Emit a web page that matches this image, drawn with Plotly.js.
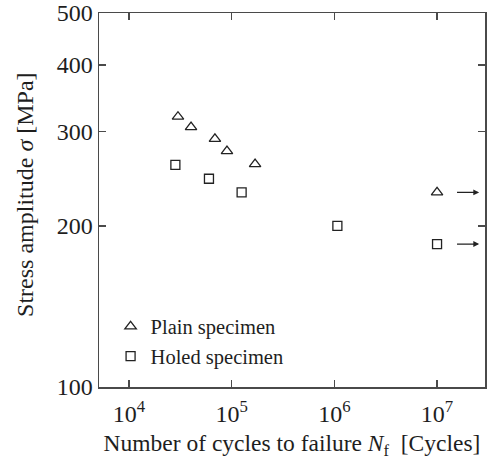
<!DOCTYPE html>
<html><head><meta charset="utf-8">
<script src="https://cdn.plot.ly/plotly-3.0.1.min.js"></script>
<style>html,body{margin:0;padding:0;background:#fff}#c{width:496px;height:462px}</style>
</head><body><div id="c"></div>
<script>
// Plain specimen
const plainN = [30000, 40200, 68700, 90000, 169000, 10000000];
const plainS = [320, 306, 291, 276, 261, 231];
// Holed specimen
const holedN = [28300, 60100, 125000, 1070000, 10000000];
const holedS = [260, 245, 231, 200, 185];
// Run-out (unbroken) specimens
const runoutN = [10000000, 10000000];
const runoutS = [231, 185];
const xTickVals = [1e4, 1e5, 1e6, 1e7];
const xTickText = ['10<sup>4</sup>', '10<sup>5</sup>', '10<sup>6</sup>', '10<sup>7</sup>'];
const yTickVals = [100, 200, 300, 400, 500];
const yTickText = ['100', '200', '300', '400', '500'];
const xTitle = 'Number of cycles to failure <i>N</i><sub>f</sub>  [Cycles]';
const yTitle = 'Stress amplitude <i>σ</i> [MPa]';

const font = 'Liberation Serif, Times New Roman, serif';
const axCol = '#4a4a4a';
const txtCol = '#1e1e1e';

const traces = [
  {x: plainN, y: plainS, mode: 'markers', type: 'scatter', name: 'Plain specimen',
   marker: {symbol: 'triangle-up-open', size: 10, color: '#222', line: {width: 1.3, color: '#222'}}},
  {x: holedN, y: holedS, mode: 'markers', type: 'scatter', name: 'Holed specimen',
   marker: {symbol: 'square-open', size: 9, color: '#222', line: {width: 1.3, color: '#222'}}}
];

const annotations = runoutN.map((n, i) => ({
  xref: 'x', yref: 'y', axref: 'x', ayref: 'y',
  x: Math.log10(n) + 0.41, y: Math.log10(runoutS[i]),
  ax: Math.log10(n) + 0.18, ay: Math.log10(runoutS[i]),
  text: '', showarrow: true, arrowhead: 2, arrowsize: 0.9, arrowwidth: 1.3, arrowcolor: '#222'
}));
annotations.push({
  xref: 'paper', yref: 'paper', x: -0.192, y: 0.516, xanchor: 'center', yanchor: 'middle',
  text: yTitle, textangle: -90, showarrow: false,
  font: {family: font, size: 24, color: txtCol}
});

const layout = {
  width: 496, height: 462,
  margin: {l: 99, r: 11, t: 13, b: 75},
  paper_bgcolor: '#fff', plot_bgcolor: '#fff',
  font: {family: font, color: txtCol, size: 20},
  showlegend: true,
  legend: {x: 0.03, y: 0.215, xanchor: 'left', yanchor: 'top', bgcolor: 'rgba(0,0,0,0)',
           font: {family: font, size: 20.5, color: txtCol}, itemwidth: 30, tracegroupgap: 0},
  xaxis: {type: 'log', range: [3.708, 7.467], tickvals: xTickVals, ticktext: xTickText,
          ticks: 'inside', ticklen: 7, tickwidth: 1.3, tickcolor: axCol,
          showline: true, linecolor: axCol, linewidth: 1.5, mirror: 'ticks',
          showgrid: false, zeroline: false, ticklabelstandoff: 5,
          tickfont: {family: font, size: 24, color: txtCol},
          title: {text: xTitle, font: {family: font, size: 23.5, color: txtCol}, standoff: 8}},
  yaxis: {type: 'log', range: [2, Math.log10(500)], tickvals: yTickVals, ticktext: yTickText,
          ticks: 'inside', ticklen: 7, tickwidth: 1.3, tickcolor: axCol,
          showline: true, linecolor: axCol, linewidth: 1.5, mirror: 'ticks',
          showgrid: false, zeroline: false,
          tickfont: {family: font, size: 24, color: txtCol}},
  annotations: annotations
};

Plotly.newPlot('c', traces, layout, {displayModeBar: false, staticPlot: true});
</script></body></html>
